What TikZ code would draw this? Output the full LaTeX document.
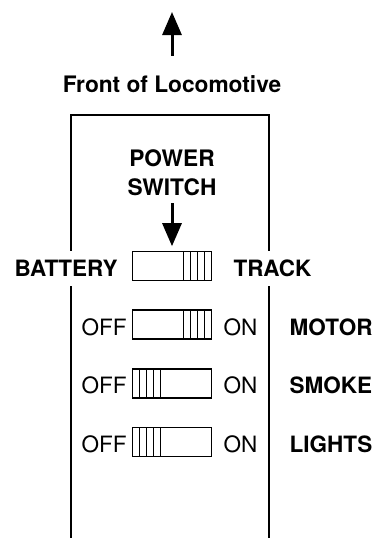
\documentclass[tikz,border=0pt]{standalone}
\usepackage{fontspec}
\setmainfont{TeX Gyre Heros}
\usetikzlibrary{arrows.meta,positioning}

\begin{document}
\begin{tikzpicture}[
    x=1pt, y=-1pt,
    node distance=5pt and 5pt,
    title/.style={inner sep=0pt, font=\fontsize{22.7}{29}\selectfont\bfseries, align=center},
    lbl/.style={inner sep=0pt, font=\fontsize{22.5}{26}\selectfont},
    partlbl/.style={lbl, font=\fontsize{22.5}{26}\selectfont\bfseries},
    gap/.style={fill=white, inner ysep=9pt},
    switch/.style={rectangle, draw, line width=1.6pt, minimum width=79pt, minimum height=29pt, inner sep=0pt},
    swon/.style={switch, path picture={
        \foreach \i in {1,...,4}
            \draw[line width=1.6pt] ([xshift=-7pt*\i]path picture bounding box.north east) -- ([xshift=-7pt*\i]path picture bounding box.south east);}},
    swoff/.style={switch, path picture={
        \foreach \i in {1,...,4}
            \draw[line width=1.6pt] ([xshift=7pt*\i]path picture bounding box.north west) -- ([xshift=7pt*\i]path picture bounding box.south west);}},
    frame/.style={line width=2pt, line join=miter},
    arrow/.style={-{Triangle[length=23pt, width=19pt]}, line width=3pt}
]
\useasboundingbox (0,0) rectangle (375,538);

% body outline
\coordinate (bl) at (71,538);
\coordinate (tl) at (71,114.5);
\coordinate (tr) at (269,114.5);
\coordinate (br) at (269,538);
\draw[frame] (bl) -- (tl) -- (tr) -- (br);

% front
\node[title, anchor=base] (front) at (172,92) {Front of Locomotive};
\coordinate (ahead) at (172,12);
\draw[arrow, shorten <=19pt] (front) -- (ahead);

% power switch
\node[title, anchor=north] (power) at (172,149) {POWER\\SWITCH};
\node[swon] (sw1) at (172,266) {};
\draw[arrow, shorten <=8pt, shorten >=4.5pt] (power) -- (sw1);
\node[partlbl, gap, left=14pt of sw1, yshift=-2.5pt] (battery) {BATTERY};
\node[partlbl, gap, right=21pt of sw1, yshift=-2.5pt] (track) {TRACK};

% motor
\node[swon, below=28pt of sw1] (sw2) {};
\node[lbl, left=5pt of sw2, yshift=-2.5pt] (off2) {OFF};
\node[lbl, right=11pt of sw2, yshift=-2.5pt] (on2) {ON};
\node[partlbl, right=32pt of on2] (motor) {MOTOR};

% smoke
\node[swoff, below=28pt of sw2] (sw3) {};
\node[lbl, left=5pt of sw3, yshift=-2.5pt] (off3) {OFF};
\node[lbl, right=11pt of sw3, yshift=-2.5pt] (on3) {ON};
\node[partlbl, right=32pt of on3] (smoke) {SMOKE};

% lights
\node[swoff, below=28pt of sw3] (sw4) {};
\node[lbl, left=5pt of sw4, yshift=-2.5pt] (off4) {OFF};
\node[lbl, right=11pt of sw4, yshift=-2.5pt] (on4) {ON};
\node[partlbl, right=32pt of on4] (lights) {LIGHTS};
\end{tikzpicture}
\end{document}
